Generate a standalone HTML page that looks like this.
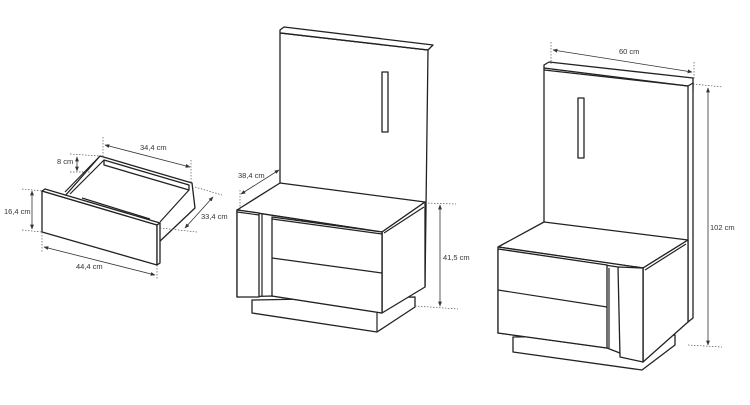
<!DOCTYPE html>
<html><head><meta charset="utf-8"><style>
html,body{margin:0;padding:0;background:#fff}
svg{display:block}
text{font-family:"Liberation Sans",sans-serif;font-size:7.5px;fill:#333}
.s{fill:#fff;stroke:#222;stroke-width:1.3;stroke-linejoin:round}
.l{fill:none;stroke:#222;stroke-width:1.2}
.d{fill:none;stroke:#555;stroke-width:0.7;stroke-dasharray:1.5 1.5}
.a{fill:none;stroke:#333;stroke-width:0.8;marker-start:url(#m);marker-end:url(#m)}
</style></head><body>
<svg width="750" height="405" viewBox="0 0 750 405" xmlns="http://www.w3.org/2000/svg">
<defs><marker id="m" viewBox="0 0 10 10" refX="9" refY="5" markerWidth="6" markerHeight="6" orient="auto-start-reverse"><path d="M0,1 L10,5 L0,9z" fill="#333"/></marker></defs>

<!-- DRAWER -->
<polygon class="s" points="100,156 192,183 195,208 158,243 65,196"/>
<polygon class="s" points="104,160 189,185 189,190 104,165"/>
<line class="l" x1="100" y1="156" x2="65" y2="192"/>
<line class="l" x1="104" y1="160" x2="70" y2="194"/>
<line class="l" x1="82" y1="198" x2="150" y2="219"/>
<line class="l" x1="189" y1="190" x2="160" y2="222"/>
<polygon class="s" points="42,191 157,225 157,265 42,232"/>
<polygon class="s" points="42,191 45,189 160,223 157,225"/>
<polygon class="s" points="157,225 160,223 160,263 157,265"/>
<line class="d" x1="103" y1="137" x2="103" y2="156"/><line class="d" x1="191" y1="160" x2="191" y2="183"/>
<line class="a" x1="105" y1="145" x2="190" y2="167"/>
<text x="140" y="150">34,4 cm</text>
<line class="d" x1="70" y1="154" x2="100" y2="156"/><line class="d" x1="70" y1="172" x2="90" y2="172"/>
<line class="a" x1="77" y1="157" x2="77" y2="171"/>
<text x="57" y="164">8 cm</text>
<line class="d" x1="22" y1="189" x2="42" y2="191"/><line class="d" x1="22" y1="230" x2="42" y2="232"/>
<line class="a" x1="32" y1="191" x2="32" y2="229"/>
<text x="4" y="214">16,4 cm</text>
<line class="d" x1="42" y1="232" x2="42" y2="252"/><line class="d" x1="157" y1="265" x2="157" y2="280"/>
<line class="a" x1="44" y1="247" x2="155" y2="275"/>
<text x="76" y="269">44,4 cm</text>
<line class="d" x1="195" y1="187" x2="222" y2="195"/><line class="d" x1="160" y1="228" x2="197" y2="232"/>
<line class="a" x1="213" y1="197" x2="185" y2="228"/>
<text x="201" y="219">33,4 cm</text>

<!-- MIDDLE UNIT -->
<polygon class="s" points="280,33 428,50 425,287 280,183"/>
<polygon class="s" points="280,30 284,27 433,45 428,50 280,33"/>
<line class="l" x1="281" y1="33" x2="428" y2="50"/>
<rect class="s" x="382" y="72" width="6" height="60"/>
<polygon class="s" points="252,300 415,297 415,307 377,332 252,313"/>
<line class="l" x1="377" y1="313" x2="377" y2="332"/>
<polygon class="s" points="237,210 280,183 425,202 382,232"/>
<polygon class="s" points="382,232 425,202 425,287 382,313"/>
<line class="l" x1="384" y1="233" x2="424" y2="207"/>
<polygon class="s" points="237,210 382,232 382,313 272,296 237,297"/>
<polygon class="s" points="237,210 259,213 259,297 237,297"/>
<line class="l" x1="237" y1="212" x2="259" y2="215"/>
<line class="l" x1="262" y1="214" x2="262" y2="296"/>
<polygon class="s" points="272,217 382,232 382,313 272,296"/>
<line class="l" x1="272" y1="258" x2="382" y2="273"/>
<line class="l" x1="272" y1="219" x2="382" y2="234"/>
<line class="d" x1="425" y1="203" x2="456" y2="204"/><line class="d" x1="415" y1="306" x2="458" y2="309"/>
<line class="a" x1="440" y1="205" x2="440" y2="306"/>
<text x="443" y="260">41,5 cm</text>
<line class="d" x1="240" y1="190" x2="240" y2="210"/>
<line class="a" x1="241" y1="194" x2="279" y2="170"/>
<text x="238" y="178">38,4 cm</text>

<!-- RIGHT UNIT -->
<polygon class="s" points="544,68 693,86 688,322 544,222"/>
<polygon class="s" points="544,65 549,62 693,78 693,86 688,86 544,68"/>
<line class="l" x1="544" y1="70" x2="688" y2="86"/>
<polygon class="s" points="688,86 693,83 693,318 688,322"/>
<rect class="s" x="578" y="98" width="6" height="60"/>
<polygon class="s" points="513,337 675,335 675,345 642,370 513,352"/>
<polygon class="s" points="498,247 544,222 688,240 643,268"/>
<polygon class="s" points="643,268 688,240 688,322 643,362"/>
<line class="l" x1="645" y1="270" x2="686" y2="244"/>
<polygon class="s" points="498,247 643,268 643,362 607,348 498,333"/>
<line class="l" x1="498" y1="249" x2="618" y2="267"/>
<polygon class="s" points="498,249 607,265 607,348 498,333"/>
<line class="l" x1="498" y1="290" x2="607" y2="307"/>
<polygon class="s" points="618,267 643,268 643,362 620,357"/>
<line class="l" x1="609" y1="268" x2="609" y2="348"/>
<line class="d" x1="551" y1="42" x2="551" y2="64"/><line class="d" x1="694" y1="62" x2="694" y2="80"/>
<line class="a" x1="553" y1="50" x2="692" y2="72"/>
<text x="619" y="54">60 cm</text>
<line class="d" x1="693" y1="84" x2="723" y2="87"/><line class="d" x1="688" y1="345" x2="722" y2="347"/>
<line class="a" x1="708" y1="88" x2="708" y2="345"/>
<text x="710" y="230">102 cm</text>
</svg>
</body></html>
